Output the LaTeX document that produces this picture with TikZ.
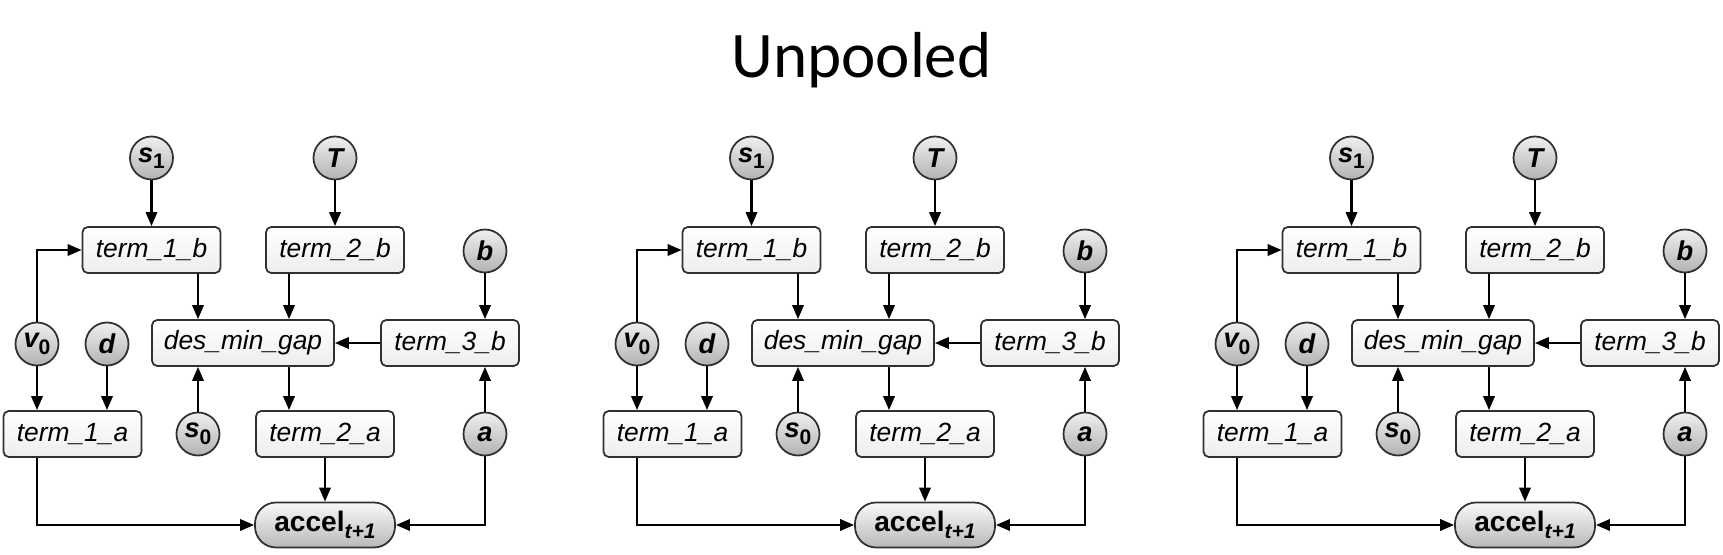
\documentclass[tikz,border=0pt]{standalone}
\usepackage{fontspec}
\setmainfont{Liberation Sans}
\newfontfamily\titlefont{Carlito}
\usepackage{tikz}
\usetikzlibrary{arrows.meta, calc}
\definecolor{edgegray}{HTML}{303030}
\newcommand{\lowsub}[1]{\raisebox{-0.45ex}{\fontsize{12}{12}\selectfont #1}}
\tikzset{>={Triangle[length=8pt,width=6.5pt]}}
\tikzset{
	varnode/.style = {circle, draw=edgegray, line width=1pt, minimum size=0.86cm, inner sep=0pt, top color=gray!12, bottom color=gray!60, font=\fontsize{15.5}{18}\selectfont\bfseries\itshape},
	termbox/.style = {rectangle, rounded corners=3pt, draw=edgegray, line width=1pt, minimum width=2.76cm, minimum height=0.92cm, inner sep=1pt, top color=white, bottom color=gray!14, font=\fontsize{15}{18}\selectfont\itshape},
	accelnode/.style = {rectangle, rounded corners=12pt, draw=edgegray, line width=1pt, minimum width=2.8cm, minimum height=0.9cm, inner sep=1pt, top color=gray!5, bottom color=gray!55, font=\fontsize{16}{18}\selectfont\bfseries},
	link/.style = {->, line width=1.3pt, black}
}

\begin{document}
\begin{tikzpicture}

	\useasboundingbox (0,0) rectangle (34.46,11.08);

	\node (title) at (17.23,9.88) {\titlefont\fontsize{37}{44}\selectfont Unpooled};

	\foreach \p in {0,1,2}{
	\begin{scope}[xshift=\p*12cm, name prefix=p\p-]

		% inputs
		\node [varnode] (s1) at (3.03,7.92) {s\lowsub{\upshape 1}};
		\node [varnode] (T) at (6.70,7.92) {T};
		\node [varnode] (b) at (9.70,6.06) {b};
		\node [varnode] (v0) at (0.74,4.20) {v\lowsub{\upshape 0}};
		\node [varnode] (d) at (2.14,4.20) {d};
		\node [varnode] (s0) at (3.96,2.40) {s\lowsub{\upshape 0}};
		\node [varnode] (a) at (9.70,2.40) {a};

		% terms
		\node [termbox] (term1b) at (3.03,6.08) {term\_1\_b};
		\node [termbox] (term2b) at (6.70,6.08) {term\_2\_b};
		\node [termbox, minimum width=3.64cm] (desmin) at (4.86,4.22) {des\_min\_gap};
		\node [termbox] (term3b) at (9.00,4.22) {term\_3\_b};
		\node [termbox] (term1a) at (1.45,2.40) {term\_1\_a};
		\node [termbox] (term2a) at (6.50,2.40) {term\_2\_a};

		\node [accelnode] (accel) at (6.50,0.58) {accel\lowsub{\itshape t+1}};
		\coordinate (gap) at (5.78,0);

		\draw [link] (s1) -- (term1b);
		\draw [link] (T) -- (term2b);
		\draw [link] (v0) |- (term1b);
		\draw [link] (v0) -- (v0 |- term1a.north);
		\draw [link] (d) -- (d |- term1a.north);
		\draw [link] (term1b.south -| s0) -- (desmin.north -| s0);
		\draw [link] (term2b.south -| gap) -- (desmin.north -| gap);
		\draw [link] (desmin.south -| gap) -- (term2a.north -| gap);
		\draw [link] (s0) -- (s0 |- desmin.south);
		\draw [link] (b) -- (b |- term3b.north);
		\draw [link] (a) -- (a |- term3b.south);
		\draw [link] (term3b) -- (desmin);
		\draw [link] (term2a) -- (accel);
		\draw [link] (term1a.south -| v0) |- (accel);
		\draw [link] (a) |- (accel);

	\end{scope}
	}

\end{tikzpicture}
\end{document}
